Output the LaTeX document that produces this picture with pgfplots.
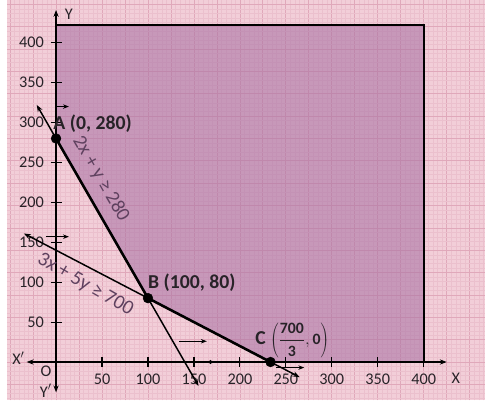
\documentclass[border=0pt]{standalone}
\usepackage{pgfplots}
\pgfplotsset{compat=1.18}
\usepackage{fontspec}
\setmainfont{Carlito}
\usetikzlibrary{arrows.meta}
\definecolor{bgpink}{RGB}{242,206,216}
\definecolor{gridmaj}{RGB}{224,168,186}
\definecolor{gridmin}{RGB}{235,192,205}
\definecolor{region}{RGB}{168,112,163}
\definecolor{lbl}{RGB}{95,65,95}
\definecolor{txt}{RGB}{40,35,40}
\begin{document}
\begin{tikzpicture}
\begin{axis}[
 width=485pt, height=406pt, scale only axis,
 xmin=-53.6, xmax=466.2, ymin=-48.1, ymax=453,
 axis line style={draw=none},
 xtick={-50,-25,...,475}, ytick={-56,-28,...,448},
 minor tick num=4,
 xticklabels={}, yticklabels={},
 major tick length=0pt, minor tick length=0pt,
 grid=both,
 major grid style={gridmaj, line width=0.8pt},
 minor grid style={gridmin, line width=0.35pt},
 axis background/.style={fill=bgpink},
 clip=true,
]
% feasible region
\addplot[fill=region, fill opacity=0.57, draw=none] coordinates {(0,422)(0,280)(100,80)(233.33,0)(400,0)(400,422)} -- cycle;
\addplot[black, line width=2.4pt] coordinates {(0,422)(400,422)(400,0)};
% axes
\addplot[black, line width=2.2pt, {Stealth[length=7pt]}-{Stealth[length=7pt]}] coordinates {(-32,0)(425,0)};
\addplot[black, line width=2.2pt, {Stealth[length=7pt]}-{Stealth[length=7pt]}] coordinates {(0,-38)(0,441)};
% ticks
\pgfplotsinvokeforeach{50,100,...,400}{
 \addplot[black, line width=1.2pt] coordinates {(#1,-6)(#1,6)};
 \addplot[black, line width=1.2pt] coordinates {(-6,#1)(6,#1)};
 \node[font=\fontsize{16.5}{19}\selectfont, text=txt] at (axis cs:#1,-22) {#1};
 \node[anchor=east, inner sep=0pt, font=\fontsize{16.5}{19}\selectfont, text=txt] at (axis cs:-13,#1) {#1};
}
\addplot[only marks, mark=*, mark size=1.8pt, black] coordinates {(168,0)};
% constraint lines
\addplot[black, line width=1.5pt, {Stealth[length=7pt]}-{Stealth[length=7pt]}] coordinates {(-21,322)(155,-30)};
\addplot[black, line width=1.5pt, {Stealth[length=7pt]}-{Stealth[length=7pt]}] coordinates {(-35,161)(265,-19)};
\addplot[black, line width=2.6pt] coordinates {(0,280)(100,80)(233.33,0)};
% direction arrows
\addplot[black, line width=1pt, -{Stealth[length=6pt]}] coordinates {(0,320)(14,320)};
\addplot[black, line width=1pt, -{Stealth[length=6pt]}] coordinates {(-11,157)(14,157)};
\addplot[black, line width=1pt, -{Stealth[length=6pt]}] coordinates {(134,26)(164,26)};
\addplot[black, line width=1pt, -{Stealth[length=6pt]}] coordinates {(239,-7)(270,-7)};
% vertices
\addplot[only marks, mark=*, mark size=5pt, black] coordinates {(0,280)(100,80)(233.33,0)};
% labels
\node[anchor=west, inner sep=0pt, font=\bfseries\fontsize{20}{22}\selectfont, text=txt] at (axis cs:-3,299) {A (0, 280)};
\node[anchor=west, inner sep=0pt, font=\bfseries\fontsize{20}{22}\selectfont, text=txt] at (axis cs:100,99) {B (100, 80)};
\node[anchor=west, inner sep=0pt, font=\bfseries\fontsize{20}{22}\selectfont, text=txt] at (axis cs:216.5,27) {C {\fontsize{16}{18}\selectfont$\displaystyle\left(\frac{\mathbf{700}}{\mathbf{3}},\mathbf{0}\right)$}};
\node[rotate=-60, text=lbl, font=\fontsize{20}{22}\selectfont] at (axis cs:48.7,229.5) {2x + y ≥ 280};
\node[rotate=-30, text=lbl, font=\fontsize{20.5}{22}\selectfont] at (axis cs:31.8,96.7) {3x + 5y ≥ 700};
\node[font=\fontsize{16.5}{19}\selectfont, text=txt] at (axis cs:14,435) {Y};
\node[font=\fontsize{16.5}{19}\selectfont, text=txt] at (axis cs:435,-20) {X};
\node[font=\fontsize{16.5}{19}\selectfont, text=txt] at (axis cs:-41,5) {X$'$};
\node[font=\fontsize{16.5}{19}\selectfont, text=txt] at (axis cs:-11,-12) {O};
\node[anchor=east, font=\fontsize{16.5}{19}\selectfont, text=txt] at (axis cs:-1,-36) {Y$'$};
\end{axis}
\end{tikzpicture}
\end{document}
